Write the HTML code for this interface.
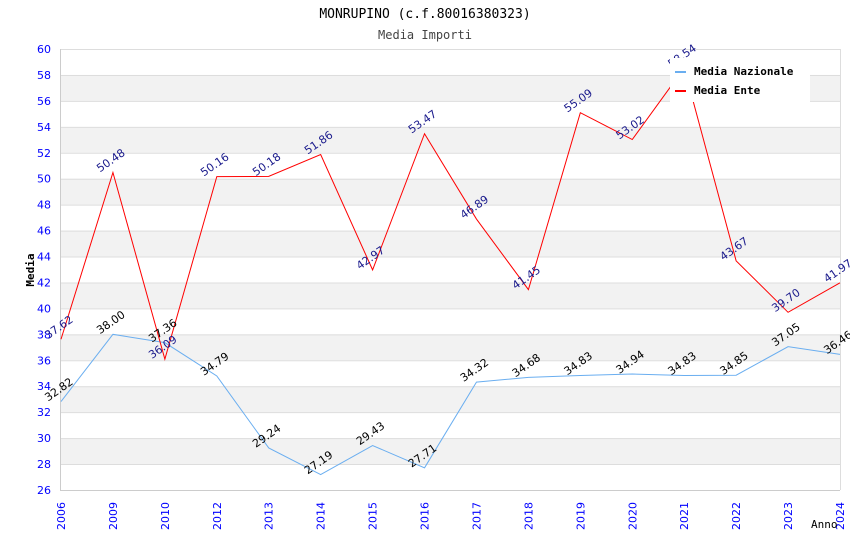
<!DOCTYPE html>
<html><head><meta charset="utf-8"><style>
body{margin:0;background:#fff}
svg{display:block;font-family:"DejaVu Sans","Liberation Sans",sans-serif}
</style></head><body>
<svg id="c" width="850" height="550">
<text x="425" y="18" text-anchor="middle" font-family="DejaVu Sans Mono, Liberation Mono, monospace" font-size="13">MONRUPINO (c.f.80016380323)</text>
<text x="425" y="39" text-anchor="middle" font-family="DejaVu Sans Mono, Liberation Mono, monospace" font-size="12" fill="#444">Media Importi</text>
<g id="bands"></g><g id="grid"></g><g id="axes"></g><g id="series"></g><g id="labels"></g>
<text transform="translate(34,270) rotate(-90)" text-anchor="middle" font-family="DejaVu Sans Mono, monospace" font-size="11" font-weight="bold">Media</text>
<text x="811" y="528" font-family="DejaVu Sans Mono, monospace" font-size="11">Anno</text>
<g>
<rect x="670" y="58" width="140" height="44" fill="#fff"/>
<rect x="675" y="71" width="11" height="2" fill="#6aaef0"/>
<text x="694" y="75" font-family="DejaVu Sans Mono, monospace" font-size="11" font-weight="bold">Media Nazionale</text>
<rect x="675" y="90" width="11" height="2" fill="red"/>
<text x="694" y="94" font-family="DejaVu Sans Mono, monospace" font-size="11" font-weight="bold">Media Ente</text>
</g>
</svg>
<script>
const categories=["2006","2009","2010","2012","2013","2014","2015","2016","2017","2018","2019","2020","2021","2022","2023","2024"];
const nazionale=[32.82,38.00,37.36,34.79,29.24,27.19,29.43,27.71,34.32,34.68,34.83,34.94,34.83,34.85,37.05,36.46];
const ente=[37.62,50.48,36.09,50.16,50.18,51.86,42.97,53.47,46.89,41.45,55.09,53.02,58.54,43.67,39.70,41.97];
const yTicks=[26,28,30,32,34,36,38,40,42,44,46,48,50,52,54,56,58,60];
const L=61,R=840,T=49,B=490,ymin=26,ymax=60;
const NS="http://www.w3.org/2000/svg";
const x=i=>L+i*(R-L)/(categories.length-1);
const y=v=>B-(v-ymin)*(B-T)/(ymax-ymin);
function mk(t,a,p){const e=document.createElementNS(NS,t);for(const k in a)e.setAttribute(k,a[k]);document.getElementById(p).appendChild(e);return e;}
for(let i=0;i<yTicks.length-1;i++){
 if(i%2===1){const r=mk('rect',{x:L,y:y(yTicks[i+1]),width:R-L,height:y(yTicks[i])-y(yTicks[i+1]),fill:'#f2f2f2'},'bands');
 
 }
}
yTicks.forEach(v=>{
 const l=mk('line',{x1:L,x2:R,y1:y(v)+0.5,y2:y(v)+0.5,stroke:'#ddd'},'grid');
 
 
 const t=mk('text',{x:51,y:y(v)+4,'text-anchor':'end','font-size':11,fill:'#00f'},'axes');
 t.textContent=v;
 
 
});
const ax=mk('path',{d:`M${L-0.5},${T} V${B+0.5} H${R}`,stroke:'#ccc',fill:'none'},'axes');


const rb=mk('line',{x1:R+0.5,x2:R+0.5,y1:T,y2:B,stroke:'#ddd'},'axes');


categories.forEach((c,i)=>{
 const t=mk('text',{transform:`translate(${x(i)+4},${B+40}) rotate(-90)`,'font-size':11,fill:'#00f'},'axes');
 t.textContent=c;
 
 
});
function series(data,color,lc,name){
 const p=mk('polyline',{points:data.map((v,i)=>x(i)+','+y(v)).join(' '),fill:'none',stroke:color,'stroke-width':1},'series');
 
 
 data.forEach((v,i)=>{
  const t=mk('text',{transform:`translate(${x(i)},${y(v)-9}) rotate(-35)`,'text-anchor':'middle','font-size':11,fill:lc},'labels');
  t.textContent=v.toFixed(2);
  
  
 });
}
series(nazionale,'#6aaef0','#000','nazionale');
series(ente,'red','#1a1a8c','ente');
</script>
</body></html>
